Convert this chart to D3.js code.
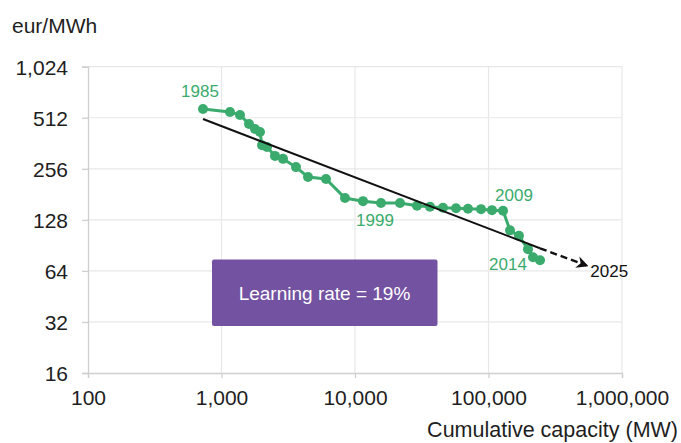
<!DOCTYPE html>
<html>
<head>
<meta charset="utf-8">
<script src="https://cdn.jsdelivr.net/npm/d3@7/dist/d3.min.js"></script>
<style>
    body { margin: 0; background: #fff; }
    svg { display: block; font-family: "Liberation Sans", Arial, sans-serif; }
</style>
</head>
<body>
<script>

// data
const years = [1985, 1986, 1987, 1988, 1989, 1990, 1991, 1992, 1993, 1994,
               1995, 1996, 1997, 1998, 1999, 2000, 2001, 2002, 2003, 2004,
               2005, 2006, 2007, 2008, 2009, 2010, 2011, 2012, 2013, 2014];
const capacity = [727, 1158, 1376, 1607, 1782, 1942, 2011, 2192, 2515, 2888,
                  3614, 4446, 6063, 8414, 11480, 15660, 21730, 29130, 36470, 45600,
                  57110, 70200, 87900, 106200, 128500, 144900, 169200, 197600, 215400, 243200];
const cost = [576, 554, 532, 470, 439, 422, 353, 344, 305, 293,
              262, 229, 223, 172, 165, 161, 161, 155, 153, 151,
              150, 149, 148, 146, 145, 111, 103, 86, 77, 74];

// learning curve: fitted start, end of fit, projection to 2025
const trendFit = [[727, 503], [243000, 87]];
const trendProjection = [[243000, 87], [540000, 69]];

const labelYears = [1985, 1999, 2009, 2014];
const yTicks = [16, 32, 64, 128, 256, 512, 1024];
const xTicks = [100, 1000, 10000, 100000, 1000000];

const width = 681;
const height = 443;
const green = '#3aab6d';
const ink = '#1e1e1e';

const data = years.map((y, i) => ({year: y, x: capacity[i], y: cost[i]}));

let canvas = d3.select('body').append('svg')
                .attr('width', width)
                .attr('height', height);

const x = d3.scaleLog()
            .domain([100, 1000000])
            .range([88, 622]);

const y = d3.scaleLog()
            .base(2)
            .domain([16, 1024])
            .range([373, 66.7]);

const fmt = d3.format(',');

// grid
canvas.append('g')
        .selectAll('line')
        .data(yTicks.slice(1))
        .enter()
        .append('line')
        .attr('x1', x(100))
        .attr('x2', x(1000000))
        .attr('y1', d => y(d))
        .attr('y2', d => y(d))
        .attr('stroke', '#e8e8e8')
        .attr('stroke-width', 1.2);

canvas.append('g')
        .selectAll('line')
        .data(xTicks.slice(1))
        .enter()
        .append('line')
        .attr('x1', d => x(d))
        .attr('x2', d => x(d))
        .attr('y1', y(16))
        .attr('y2', y(1024))
        .attr('stroke', '#e8e8e8')
        .attr('stroke-width', 1.2);

// axes
let xAxis = canvas.append('g')
        .attr('transform', `translate(0,${y(16)})`)
        .call(d3.axisBottom(x).tickValues(xTicks).tickFormat(fmt).tickSize(5).tickPadding(12));

let yAxis = canvas.append('g')
        .attr('transform', `translate(${x(100)},0)`)
        .call(d3.axisLeft(y).tickValues(yTicks).tickFormat(fmt).tickSize(6).tickPadding(14));

[xAxis, yAxis].forEach(a => {
    a.select('.domain').attr('stroke', '#cfcfcf').attr('stroke-width', 1.3);
    a.selectAll('.tick line').attr('stroke', '#cfcfcf').attr('stroke-width', 1.3);
    a.selectAll('.tick text')
        .attr('fill', ink)
        .style('font-size', '21px')
        .style('font-family', '"Liberation Sans", Arial, sans-serif');
});
yAxis.selectAll('.tick text').attr('dy', '0.36em');

// axis titles
canvas.append('text')
        .attr('x', 12)
        .attr('y', 33)
        .attr('fill', ink)
        .style('font-size', '21px')
        .text('eur/MWh');

canvas.append('text')
        .attr('x', 678)
        .attr('y', 437)
        .attr('text-anchor', 'end')
        .attr('fill', ink)
        .style('font-size', '21.5px')
        .text('Cumulative capacity (MW)');

// learning rate box
canvas.append('rect')
        .attr('x', 212)
        .attr('y', 259.5)
        .attr('width', 225.5)
        .attr('height', 66.5)
        .attr('rx', 2)
        .attr('fill', '#7352a1');

canvas.append('text')
        .attr('x', 324.5)
        .attr('y', 299.5)
        .attr('text-anchor', 'middle')
        .attr('fill', '#ffffff')
        .style('font-size', '19px')
        .text('Learning rate = 19%');

// arrow marker
canvas.append('defs')
        .append('marker')
        .attr('id', 'arrow')
        .attr('viewBox', '0 0 10 10')
        .attr('refX', 8)
        .attr('refY', 5)
        .attr('markerWidth', 5)
        .attr('markerHeight', 5)
        .attr('orient', 'auto')
        .append('path')
        .attr('d', 'M0,0 L10,5 L0,10 L3,5 Z')
        .attr('fill', '#111');

const line = d3.line()
                .x(d => x(d[0]))
                .y(d => y(d[1]));

// green series
canvas.append('path')
        .datum(data)
        .attr('d', d3.line().x(d => x(d.x)).y(d => y(d.y)))
        .attr('fill', 'none')
        .attr('stroke', green)
        .attr('stroke-width', 3);

canvas.selectAll('circle')
        .data(data)
        .enter()
        .append('circle')
        .attr('cx', d => x(d.x))
        .attr('cy', d => y(d.y))
        .attr('r', 5)
        .attr('fill', green);

// trend line
canvas.append('path')
        .datum(trendFit)
        .attr('d', line)
        .attr('fill', 'none')
        .attr('stroke', '#111')
        .attr('stroke-width', 2);

canvas.append('path')
        .datum(trendProjection)
        .attr('d', line)
        .attr('fill', 'none')
        .attr('stroke', '#111')
        .attr('stroke-width', 2.4)
        .attr('stroke-dasharray', '7,4')
        .attr('marker-end', 'url(#arrow)');

// year labels
const labelOffsets = {1985: [-3, -12], 1999: [12, 25], 2009: [11, -10], 2014: [-32, 10]};

canvas.selectAll('.year-label')
        .data(data.filter(d => labelYears.includes(d.year)))
        .enter()
        .append('text')
        .attr('class', 'year-label')
        .attr('x', d => x(d.x) + labelOffsets[d.year][0])
        .attr('y', d => y(d.y) + labelOffsets[d.year][1])
        .attr('text-anchor', 'middle')
        .attr('fill', green)
        .style('font-size', '17px')
        .text(d => d.year);

const last = trendProjection[1];
canvas.append('text')
        .attr('x', x(last[0]) + 4)
        .attr('y', y(last[1]) + 12)
        .attr('fill', '#111')
        .style('font-size', '17px')
        .text('2025');

</script>
</body>
</html>
